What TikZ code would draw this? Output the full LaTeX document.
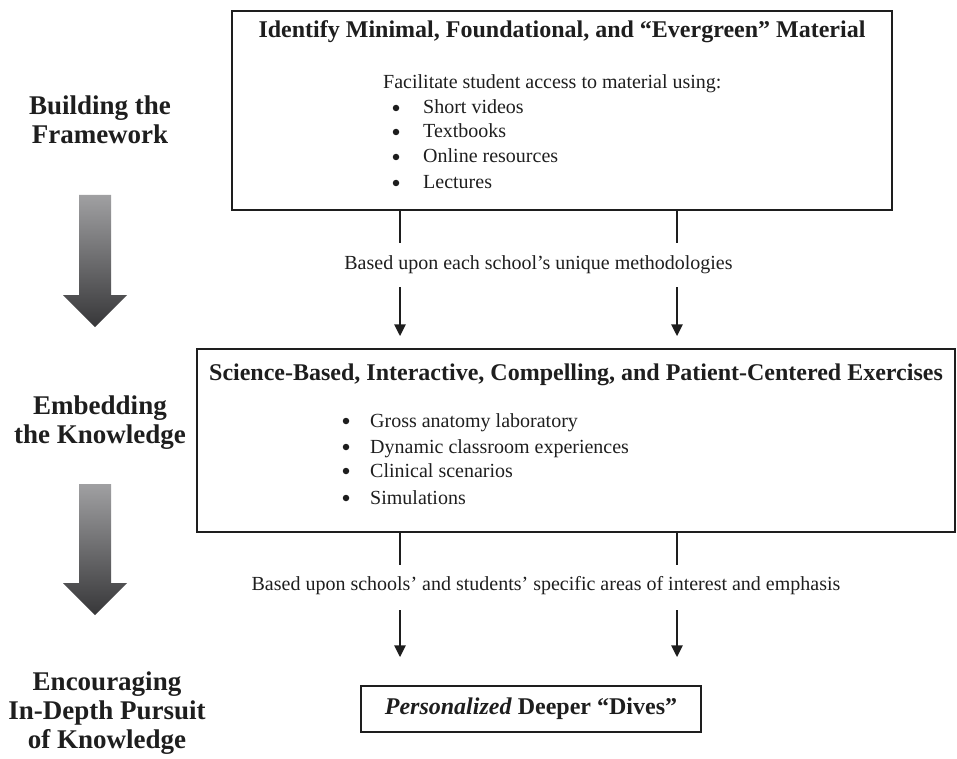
\documentclass[tikz,border=0pt]{standalone}
\usepackage{fontspec}
\setmainfont{Liberation Serif}
\usetikzlibrary{arrows.meta}
\definecolor{ink}{RGB}{30,30,30}
\definecolor{arrtop}{RGB}{160,160,162}
\definecolor{arrbot}{RGB}{55,55,57}
\begin{document}
\begin{tikzpicture}[x=1pt,y=-1pt,
  box/.style={draw=ink, line width=1.5pt, inner sep=0pt},
  ttl/.style={font=\fontsize{24}{26}\selectfont\bfseries, text=ink, inner sep=0pt, anchor=base},
  body/.style={font=\fontsize{20}{25}\selectfont, text=ink, inner sep=0pt, anchor=base west},
  bul/.style={circle, fill=ink, inner sep=0pt, minimum size=6.5pt},
  side/.style={font=\fontsize{27}{29}\selectfont\bfseries, text=ink, align=center, inner sep=0pt},
  conn/.style={line width=2.8pt, draw=ink},
  arr/.style={conn, -{Triangle[width=11pt,length=12pt]}},
  bigarrow/.style={top color=arrtop, bottom color=arrbot}
]
\useasboundingbox (0,0) rectangle (957,759);

% boxes
\node[box, minimum width=660pt, minimum height=199pt] (box1) at (562,110.5) {};
\node[box, minimum width=758pt, minimum height=183pt] (box2) at (576,440.5) {};
\node[box, minimum width=340pt, minimum height=46pt, font=\fontsize{24}{26}\selectfont\bfseries, text=ink] (box3) at (531,709) {\textit{Personalized} Deeper “Dives”};

% box1 content
\node[ttl] (t1) at (562,38) {Identify Minimal, Foundational, and “Evergreen” Material};
\node[body] (f1) at (383,89) {Facilitate student access to material using:};
\node[bul] (b11) at (396,108) {}; \node[body] (i11) at (423,114) {Short videos};
\node[bul] (b12) at (396,132) {}; \node[body] (i12) at (423,138) {Textbooks};
\node[bul] (b13) at (396,157) {}; \node[body] (i13) at (423,163) {Online resources};
\node[bul] (b14) at (396,183) {}; \node[body] (i14) at (423,189) {Lectures};

% box2 content
\node[ttl] (t2) at (576,380) {Science-Based, Interactive, Compelling, and Patient-Centered Exercises};
\node[bul] (b21) at (346,421) {}; \node[body] (i21) at (370,427) {Gross anatomy laboratory};
\node[bul] (b22) at (346,447) {}; \node[body] (i22) at (370,453) {Dynamic classroom experiences};
\node[bul] (b23) at (346,471) {}; \node[body] (i23) at (370,477) {Clinical scenarios};
\node[bul] (b24) at (346,498) {}; \node[body] (i24) at (370,504) {Simulations};

% connector labels
\node[body, anchor=base] (l1) at (538.5,269) {Based upon each school’s unique methodologies};
\node[body, anchor=base] (l2) at (546,590) {Based upon schools’ and students’ specific areas of interest and emphasis};

% connectors
\coordinate (a1) at (400,243); \coordinate (a2) at (677,243);
\coordinate (c1) at (400,287); \coordinate (c2) at (677,287);
\coordinate (d1) at (400,565); \coordinate (d2) at (677,565);
\coordinate (e1) at (400,610); \coordinate (e2) at (677,610);
\draw[conn] (box1.south -| a1) -- (a1);
\draw[conn] (box1.south -| a2) -- (a2);
\draw[arr, shorten >=12pt] (c1) -- (box2.north -| c1);
\draw[arr, shorten >=12pt] (c2) -- (box2.north -| c2);
\draw[conn] (box2.south -| d1) -- (d1);
\draw[conn] (box2.south -| d2) -- (d2);
\draw[arr, shorten >=28pt] (e1) -- (box3.north -| e1);
\draw[arr, shorten >=28pt] (e2) -- (box3.north -| e2);

% side labels
\node[side] (s1) at (100,120) {Building the\\Framework};
\node[side] (s2) at (100,423) {Embedding\\the Knowledge};
\node[side] (s3) at (107,713) {Encouraging\\In-Depth Pursuit\\of Knowledge};

% big gradient arrows
\shade[bigarrow] (79,195) -- (111,195) -- (111,295) -- (127,295) -- (95,327) -- (63,295) -- (79,295) -- cycle;
\shade[bigarrow] (79,484) -- (111,484) -- (111,583) -- (127,583) -- (95,615) -- (63,583) -- (79,583) -- cycle;
\end{tikzpicture}
\end{document}
